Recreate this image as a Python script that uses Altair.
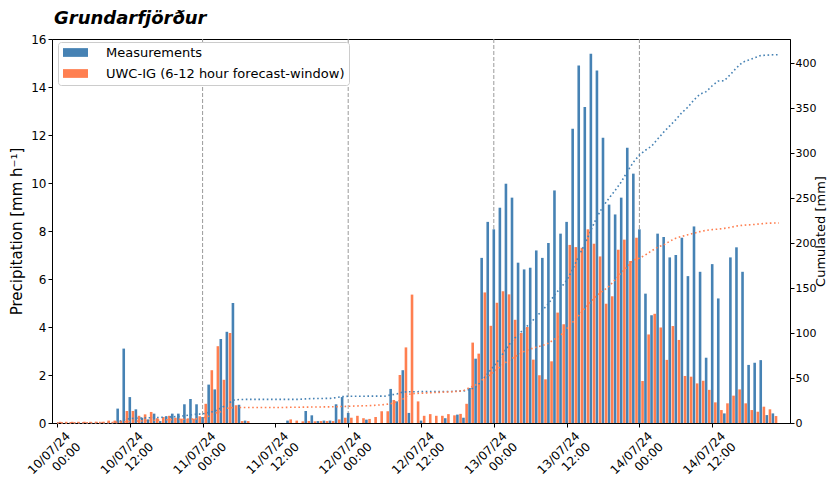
import json
import pandas as pd
import altair as alt

# ---------------- data ----------------
hours = list(range(120))

measurements = [
    0, 0, 0, 0, 0, 0, 0, 0, 0, 0,
    0.6, 3.1, 1.08, 0.57, 0.22, 0.15, 0.39, 0.08, 0.28, 0.39,
    0.39, 0.78, 1.0, 0.78, 0.25, 1.6, 1.4, 3.5, 3.8, 5.0,
    0.76, 0.1, 0, 0, 0, 0, 0, 0, 0.1, 0,
    0, 0.5, 0.32, 0.08, 0.1, 0.1, 0.78, 1.08, 0.42, 0,
    0, 0.14, 0, 0, 0, 1.42, 0.9, 2.2, 0.42, 0,
    0.1, 0, 0, 0, 0.2, 0, 0.35, 0.22, 1.46, 2.68,
    6.88, 8.38, 8.07, 8.97, 9.97, 9.39, 6.68, 6.4, 6.47, 7.19,
    6.88, 7.5, 9.69, 7.89, 8.38, 12.26, 14.9, 13.17, 15.39, 14.69,
    11.89, 9.1, 8.69, 9.39, 11.47, 10.39, 8.07, 5.39, 4.49, 7.89,
    7.75, 6.9, 7.0, 7.72, 6.12, 8.19, 6.3, 2.72, 6.62, 5.19,
    0.4, 6.9, 7.32, 6.3, 2.42, 2.51, 2.62, 0.33, 0.4, 0,
]

forecast = [
    0.05, 0.05, 0.05, 0.05, 0.05, 0.05, 0.05, 0.05, 0.1, 0.1,
    0.1, 0.5, 0.5, 0.3, 0.36, 0.46, 0.2, 0.25, 0.3, 0.22,
    0.18, 0.18, 0.18, 0.28, 0.8, 2.2, 3.2, 1.8, 3.75, 0.74,
    0.08, 0.08, 0, 0, 0, 0, 0, 0, 0.15, 0.1,
    0.07, 0.08, 0.07, 0.08, 0.08, 0.08, 0.15, 0.22, 0.22, 0.3,
    0.2, 0.17, 0.25, 0.49, 0.49, 0.96, 2.0, 3.15, 5.35, 0.9,
    0.3, 0.37, 0.3, 0.3, 0.37, 0.32, 0.38, 0.8, 3.35, 2.89,
    5.44, 4.05, 5.01, 5.49, 5.36, 4.3, 3.75, 4.0, 2.64, 1.99,
    1.82, 2.57, 4.6, 4.11, 7.42, 7.33, 7.3, 8.07, 7.47, 6.94,
    4.97, 5.28, 7.22, 7.64, 6.75, 7.72, 1.75, 3.69, 4.55, 3.98,
    2.63, 4.04, 3.46, 1.96, 1.93, 1.65, 1.76, 1.38, 0.86, 0.54,
    0.82, 1.14, 1.4, 0.82, 0.54, 0.47, 0.68, 0.57, 0.29, 0,
]

series_names = ["Measurements", "UWC-IG (6-12 hour forecast-window)"]
series_colors = ["#4682b4", "#ff7f50"]

tick_hours = [0, 12, 24, 36, 48, 60, 72, 84, 96, 108]
tick_dates = ["10/07/24", "10/07/24", "11/07/24", "11/07/24", "12/07/24",
              "12/07/24", "13/07/24", "13/07/24", "14/07/24", "14/07/24"]
tick_times = ["00:00", "12:00", "00:00", "12:00", "00:00",
              "12:00", "00:00", "12:00", "00:00", "12:00"]
day_lines = [24, 48, 72, 96]

title_text = "Grundarfjörður"

# ---------------- tables ----------------
df = pd.DataFrame({
    "hour": hours + hours,
    "series": [series_names[0]] * len(hours) + [series_names[1]] * len(hours),
    "value": measurements + forecast,
})
days_df = pd.DataFrame({"hour": day_lines})
title_df = pd.DataFrame({"t": [title_text]})

label_arr = json.dumps([[d, t] for d, t in zip(tick_dates, tick_times)])
label_expr = f"{label_arr}[round(datum.value / 12)]"

FONT = "DejaVu Sans"
W, H = 738, 384

xscale = alt.Scale(domain=[0, 120], nice=False, zero=False)
xaxis = alt.Axis(
    values=tick_hours, labelExpr=label_expr, labelAngle=-45,
    labelAlign="right", labelBaseline="top", labelOffset=7, labelPadding=3,
    labelLineHeight=15, title=None, grid=False, tickSize=4,
)

color_scale = alt.Scale(domain=series_names, range=series_colors)

bars = (
    alt.Chart(df)
    .transform_calculate(xpos=f"datum.hour + (datum.series == '{series_names[0]}' ? 0 : 0.52)")
    .mark_bar(size=2.6)
    .encode(
        x=alt.X("xpos:Q", scale=xscale, axis=xaxis),
        y=alt.Y(
            "value:Q",
            scale=alt.Scale(domain=[0, 16], nice=False),
            axis=alt.Axis(orient="left", values=list(range(0, 17, 2)),
                          title="Precipitation [mm h⁻¹]", grid=False,
                          tickSize=4, titlePadding=6),
        ),
        color=alt.Color(
            "series:N", scale=color_scale,
            legend=alt.Legend(
                title=None, orient="none", legendX=6, legendY=3,
                fillColor="white", strokeColor="#cccccc", cornerRadius=3,
                padding=4, rowPadding=7,
                symbolType="M-2,-0.7L2,-0.7L2,0.7L-2,0.7Z",
                symbolSize=156, symbolStrokeWidth=0, symbolOpacity=1,
                symbolOffset=7,
                labelFont=FONT, labelFontSize=13, labelOffset=24,
                labelColor="black", labelLimit=400,
            ),
        ),
    )
)

rules = (
    alt.Chart(days_df)
    .mark_rule(color="#9a9a9a", strokeDash=[4, 2], strokeWidth=1)
    .encode(x=alt.X("hour:Q", scale=xscale, axis=xaxis))
)

title_mark = (
    alt.Chart(title_df)
    .mark_text(align="left", baseline="alphabetic", font=FONT, fontSize=18,
               fontStyle="italic", fontWeight="bold", color="black")
    .encode(text="t:N", x=alt.value(2), y=alt.value(-15))
)

right_scale = alt.Scale(domain=[0, 427], nice=False)
right_axis = alt.Axis(orient="right", values=list(range(0, 401, 50)),
                      title="Cumulated [mm]", titleAngle=270, grid=False,
                      tickSize=4, labelPadding=1, labelFontSize=11,
                      titleFontSize=13,
                      titleX=34, titleY=H / 2, titleAlign="center",
                      titleBaseline="alphabetic")


def cum_line(name, color):
    return (
        alt.Chart(df)
        .transform_filter(f"datum.series == '{name}'")
        .transform_window(cum="sum(value)", sort=[{"field": "hour"}], frame=[None, 0])
        .mark_line(color=color, strokeDash=[1.6, 2.6], strokeWidth=1.6)
        .encode(
            x=alt.X("hour:Q", scale=xscale, axis=xaxis),
            y=alt.Y("cum:Q", scale=right_scale, axis=right_axis),
        )
    )


lines = alt.layer(cum_line(series_names[0], series_colors[0]),
                  cum_line(series_names[1], series_colors[1]))

chart = (
    alt.layer(rules, bars, lines, title_mark)
    .resolve_scale(y="independent")
    .properties(
        width=W, height=H,
        autosize=alt.AutoSizeParams(type="none"),
        padding={"left": 44, "top": 31, "right": 37, "bottom": 54},
    )
    .configure(background="white")
    .configure_view(stroke="black", strokeWidth=1)
    .configure_axis(
        labelFont=FONT, labelFontSize=12, labelColor="black",
        titleFont=FONT, titleFontSize=15, titleFontWeight="normal", titleColor="black",
        domainColor="black", tickColor="black",
    )
)

chart.save("out.html", embed_options={"renderer": "svg", "actions": False})
